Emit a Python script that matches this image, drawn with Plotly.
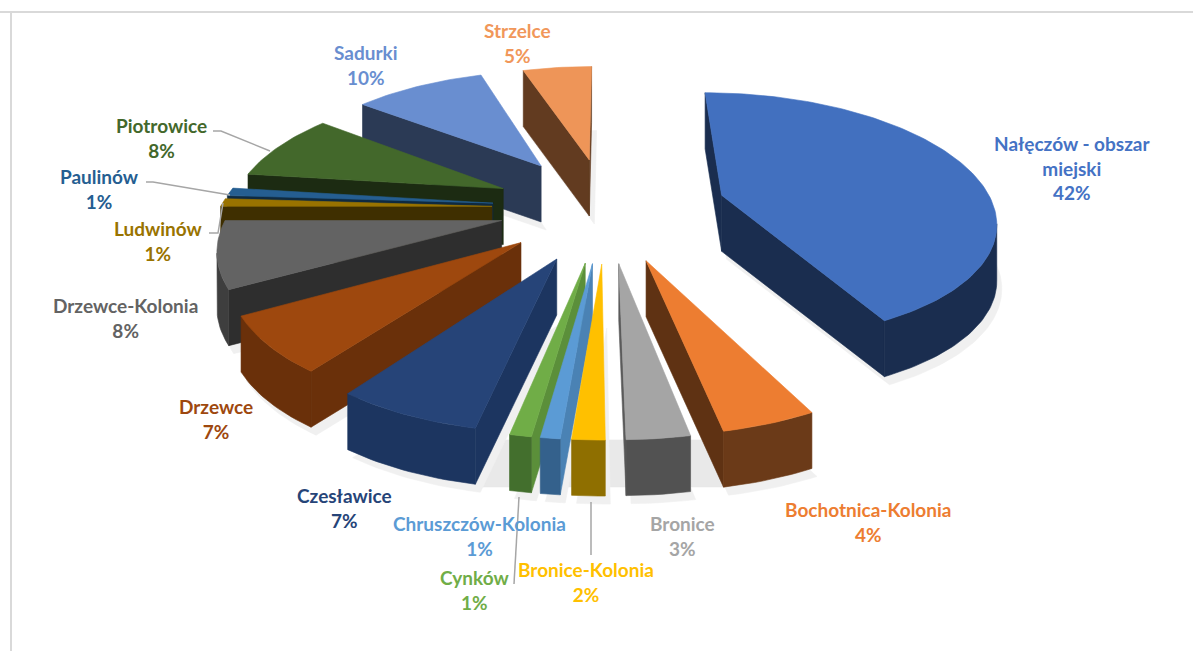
import numpy as np
import plotly.graph_objects as go

names = ["Nałęczów - obszar<br>miejski", "Bochotnica-Kolonia", "Bronice", "Bronice-Kolonia",
         "Chruszczów-Kolonia", "Cynków", "Czesławice", "Drzewce", "Drzewce-Kolonia",
         "Ludwinów", "Paulinów", "Piotrowice", "Sadurki", "Strzelce"]
percent_labels = [42, 4, 3, 2, 1, 1, 7, 7, 8, 1, 1, 8, 10, 5]
values = [42.5, 4.4, 2.9, 1.5, 0.9, 1.0, 6.8, 6.8, 8.2, 1.0, 1.0, 8.5, 9.5, 5.0]
explode = [0.445, 0.42, 0.42, 0.42, 0.42, 0.42, 0.42, 0.40, 0.39, 0.42, 0.42, 0.42, 0.44, 0.42]
tops = ["#4270BF", "#ED7D31", "#A5A5A5", "#FFC000", "#5B9BD5", "#70AD47", "#264478",
        "#9E480E", "#636363", "#997300", "#255E91", "#43682B", "#698ED0", "#EE9558"]
cuts = ["#1A2D4F", "#5F3213", "#5A5A5A", "#8F6F00", "#4A82B4", "#5B8F3A", "#1C3560",
        "#6A300A", "#2E2E2E", "#3F2F00", "#0F2A40", "#1C2B12", "#2B3A55", "#623B20"]
walls = ["#1A2D4F", "#6B3A18", "#525252", "#8F6F00", "#34618C", "#436F2D", "#1C3560",
         "#6A300A", "#3E3E3E", "#3F2F00", "#0F2A40", "#1C2B12", "#2B3A55", "#623B20"]
text_colors = ["#4472C4", "#ED7D31", "#A5A5A5", "#FFC000", "#5B9BD5", "#70AD47", "#264478",
               "#9E480E", "#636363", "#997300", "#255E91", "#43682B", "#698ED0", "#F1975A"]
label_x = [1072, 868, 682, 586, 479, 474, 344, 216, 125, 158, 99, 161, 366, 517]
label_y = [168, 522, 536, 582, 536, 590, 508, 419, 318, 241, 189, 138, 65, 43]
leaders = [[(213, 131), (221, 131), (270, 151)], [(146, 182), (153, 182), (230, 195)],
           [(209, 233), (218, 233), (223, 203)], [(519, 497), (514, 584)], [(591, 502), (591, 555)]]

CX, CY, FX, FY, K, H, ROT = 606, 208, 272, 124, 0.17, 56, 0.0


def project(x, y):
    d = 1 + K * y
    return CX + FX * x / d, CY - FY * y / d


fig = go.Figure()
shares = np.array(values, float) / sum(values) * 2 * np.pi
ends = np.cumsum(shares) + ROT
starts = ends - shares
order = sorted(range(len(values)), key=lambda i: -np.cos((starts[i] + ends[i]) / 2))


def poly(pts, color):
    xs = [p[0] for p in pts] + [pts[0][0]]
    ys = [p[1] for p in pts] + [pts[0][1]]
    fig.add_trace(go.Scatter(x=xs, y=ys, mode="lines", fill="toself", fillcolor=color,
                             line=dict(color=color, width=0.6), hoverinfo="skip", showlegend=False))


poly([(450, 440), (735, 440), (735, 487), (450, 487)], "#E9E9E9")

geom = {}
for i in order:
    mid = (starts[i] + ends[i]) / 2
    ax, ay = explode[i] * np.sin(mid), explode[i] * np.cos(mid)
    th = np.linspace(starts[i], ends[i], max(6, int(values[i] * 3)))
    geom[i] = (project(ax, ay), [project(ax + np.sin(t), ay + np.cos(t)) for t in th])

# soft ground shadow under every slice
for i in order:
    apex, arc = geom[i]
    poly([(apex[0] + 5, apex[1] + H + 8)] + [(p[0] + 5, p[1] + H + 8) for p in arc], "#F0F0F0")

for i in order:
    apex, arc = geom[i]
    down = lambda p: (p[0], p[1] + H)
    for a, b in ((apex, arc[0]), (arc[-1], apex)):
        if b[0] - a[0] < 0:
            poly([a, b, down(b), down(a)], cuts[i])
    run = [k for k in range(len(arc) - 1) if arc[k + 1][0] - arc[k][0] < 0]
    if run:
        seg = arc[run[0]: run[-1] + 2]
        poly(seg + [down(p) for p in reversed(seg)], walls[i])
    poly([apex] + arc, tops[i])

for pts in leaders:
    fig.add_trace(go.Scatter(x=[p[0] for p in pts], y=[p[1] for p in pts], mode="lines",
                             line=dict(color="#A6A6A6", width=1.5), hoverinfo="skip", showlegend=False))

for n, v, c, x, y in zip(names, percent_labels, text_colors, label_x, label_y):
    fig.add_annotation(x=x, y=y, text=f"{n}<br>{v}%", showarrow=False, xref="x", yref="y",
                       font=dict(family="Lato", size=19, color=c, weight="bold"), align="center")

fig.add_shape(type="line", x0=0, x1=1193, y0=12, y1=12, line=dict(color="#D9D9D9", width=2), layer="below")
fig.add_shape(type="line", x0=11, x1=11, y0=12, y1=651, line=dict(color="#D9D9D9", width=2), layer="below")
fig.update_layout(width=1193, height=651, margin=dict(l=0, r=0, t=0, b=0), autosize=False,
                  paper_bgcolor="white", plot_bgcolor="white", showlegend=False,
                  xaxis=dict(range=[0, 1193], visible=False, fixedrange=True),
                  yaxis=dict(range=[651, 0], visible=False, fixedrange=True))
fig.write_html("out.html", config={"displayModeBar": False},
               post_script="document.body.style.margin='0';document.body.style.overflow='hidden';")
